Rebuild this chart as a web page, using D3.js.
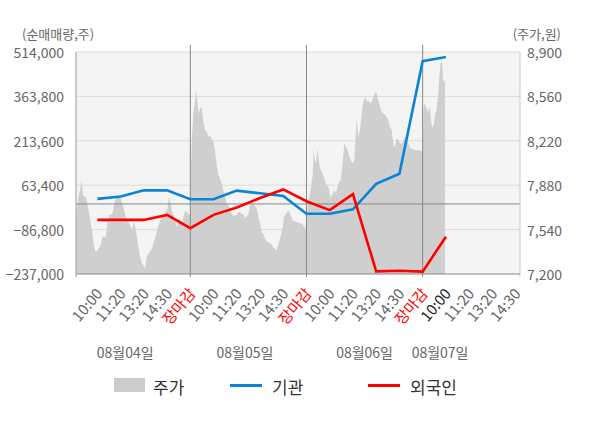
<!DOCTYPE html>
<html>
<head>
<meta charset="utf-8">
<script src="https://cdn.jsdelivr.net/npm/d3@7"></script>
<style>
  body { margin: 0; background: #fff; }
  svg { display: block; font-family: "Noto Sans CJK KR", "Noto Sans", sans-serif; }
</style>
</head>
<body>
<svg id="chart" width="600" height="428"></svg>
<script>
// x positions are in "tick units": 1 = first 10:00, 5 = first 장마감, ...
const tickLabels = ["10:00","11:20","13:20","14:30","장마감",
                    "10:00","11:20","13:20","14:30","장마감",
                    "10:00","11:20","13:20","14:30","장마감",
                    "10:00","11:20","13:20","14:30"];
const dateLabels = ["08월04일","08월05일","08월06일","08월07일"];
const datePos = [2.2, 7.35, 12.5, 15.75];
const dayBreaks = [5, 10, 15];

const leftTicks = [-237000, -86800, 63400, 213600, 363800, 514000];
const rightTicks = [7200, 7540, 7880, 8220, 8560, 8900];

// 기관 / 외국인 net volume at each tick (1..16)
const flowPos = [1,2,3,4,5,6,7,8,9,10,11,12,13,14,15,16];
const institution = [17000, 25000, 46000, 46000, 16000, 16000, 45000, 36000, 27000, -33000, -33000, -18000, 68000, 102000, 483000, 497000];
const foreigner = [-54000, -54000, -54000, -37000, -82000, -37000, -12000, 20000, 49000, 9000, -21000, 33000, -228000, -226000, -229000, -111000];

// 주가 (stock price) trace
const pricePos = [0.08,0.14,0.18,0.28,0.33,0.38,0.50,0.57,0.64,0.71,0.78,0.86,0.93,1.00,1.07,1.14,1.21,1.29,1.36,1.43,
  1.50,1.64,1.72,1.79,1.86,1.93,2.01,2.07,2.15,2.22,2.36,2.44,2.50,2.58,2.65,2.72,2.79,2.87,2.93,3.01,
  3.05,3.12,3.22,3.36,3.44,3.51,3.58,3.65,3.73,3.80,3.87,4.01,4.08,4.16,4.23,4.30,4.34,4.41,4.48,4.56,
  4.63,4.70,4.77,4.85,4.91,4.99,5.03,5.07,5.13,5.20,5.25,5.30,5.36,5.42,5.49,5.56,5.63,5.71,5.77,5.85,
  5.92,5.99,6.06,6.14,6.21,6.28,6.35,6.42,6.49,6.57,6.64,6.71,6.78,6.92,7.00,7.14,7.21,7.28,7.35,7.43,
  7.50,7.57,7.64,7.71,7.78,7.86,7.93,8.00,8.07,8.14,8.21,8.29,8.36,8.43,8.55,8.69,8.76,8.83,8.90,8.98,
  9.04,9.12,9.19,9.26,9.33,9.41,9.55,9.69,9.84,9.95,10.01,10.06,10.19,10.27,10.31,10.37,10.41,10.48,10.53,10.58,
  10.67,10.77,10.84,10.91,10.98,11.05,11.13,11.20,11.27,11.34,11.41,11.48,11.56,11.63,11.70,11.77,11.84,11.91,11.99,12.06,
  12.16,12.23,12.30,12.38,12.44,12.52,12.59,12.66,12.73,12.81,12.87,12.95,12.99,13.06,13.12,13.24,13.38,13.45,13.52,13.59,
  13.67,13.74,13.81,13.88,13.95,14.02,14.10,14.24,14.38,14.45,14.53,14.67,14.81,14.96,15.00,15.04,15.10,15.17,15.24,15.31,
  15.36,15.41,15.49,15.53,15.60,15.67,15.74,15.79,15.84,15.89,15.93,15.96];
const price = [7600,7730,7790,7870,7920,7800,7790,7740,7670,7590,7520,7410,7370,7380,7400,7420,7480,7490,7480,7590,
  7650,7660,7730,7780,7790,7790,7780,7740,7690,7640,7590,7560,7540,7600,7540,7460,7380,7310,7280,7260,
  7240,7330,7360,7400,7450,7490,7540,7580,7630,7650,7660,7690,7790,7730,7670,7640,7630,7560,7590,7630,
  7580,7640,7680,7680,7660,7650,8020,8250,8430,8510,8610,8530,8430,8470,8480,8370,8300,8290,8250,8260,
  8230,8210,8150,8030,7960,7930,7890,7840,7790,7740,7730,7700,7660,7640,7660,7680,7660,7660,7630,7640,
  7660,7730,7750,7740,7720,7700,7640,7590,7520,7510,7470,7450,7440,7440,7410,7380,7410,7450,7500,7560,
  7640,7660,7680,7680,7640,7610,7600,7590,7580,7540,7640,7720,7860,7960,8140,8070,8050,8160,8070,8010,
  7980,7930,7890,7880,7840,7780,7820,7840,7820,7870,7910,7920,8050,8200,8170,8150,8100,8070,8050,8070,
  8400,8250,8300,8430,8510,8560,8520,8530,8510,8520,8550,8580,8600,8550,8510,8440,8420,8400,8380,8330,
  8300,8190,8170,8240,8230,8200,8200,8250,8200,8170,8160,8150,8150,8140,8140,8470,8510,8470,8440,8480,
  8380,8320,8350,8420,8460,8580,8760,8840,8810,8660,8690,8670];

const svg = d3.select("#chart");
const plot = { left: 76, right: 520, top: 52, bottom: 274 };
const grey = "#666";

const x = d3.scaleLinear().domain([0.08, 19.19]).range([plot.left, plot.right]);
const yL = d3.scaleLinear().domain([-237000, 514000]).range([plot.bottom, plot.top]);
const yR = d3.scaleLinear().domain([7200, 8900]).range([plot.bottom, plot.top]);

svg.append("rect")
    .attr("x", plot.left).attr("y", plot.top)
    .attr("width", plot.right - plot.left).attr("height", plot.bottom - plot.top)
    .attr("fill", "#f4f4f4");

// grid lines
svg.append("g").selectAll("line")
    .data(leftTicks.slice(1))
    .enter().append("line")
    .attr("x1", plot.left).attr("x2", plot.right)
    .attr("y1", d => yL(d)).attr("y2", d => yL(d))
    .attr("stroke", "#dcdcdc").attr("stroke-width", 1);

// price area
const area = d3.area()
    .x((d, i) => x(pricePos[i]))
    .y0(plot.bottom)
    .y1(d => yR(d));
svg.append("path")
    .datum(price)
    .attr("d", area)
    .attr("fill", "#cfcfcf");

// zero line
svg.append("line")
    .attr("x1", plot.left).attr("x2", plot.right)
    .attr("y1", yL(0)).attr("y2", yL(0))
    .attr("stroke", "#888").attr("stroke-width", 1);

// day separators
svg.append("g").selectAll("line")
    .data(dayBreaks)
    .enter().append("line")
    .attr("x1", d => x(d)).attr("x2", d => x(d))
    .attr("y1", plot.top - 7).attr("y2", plot.bottom + 3)
    .attr("stroke", "#888").attr("stroke-width", 1);

// axes lines
svg.append("line").attr("x1", plot.left).attr("x2", plot.left).attr("y1", plot.top).attr("y2", plot.bottom + 3)
    .attr("stroke", "#999");
svg.append("line").attr("x1", plot.right).attr("x2", plot.right).attr("y1", plot.top).attr("y2", plot.bottom + 3)
    .attr("stroke", "#ccc");
svg.append("line").attr("x1", plot.left).attr("x2", plot.right).attr("y1", plot.bottom).attr("y2", plot.bottom)
    .attr("stroke", "#888");

// left axis labels
svg.append("g").selectAll("text")
    .data(leftTicks)
    .enter().append("text")
    .attr("x", 64).attr("y", d => yL(d))
    .attr("text-anchor", "end").attr("dominant-baseline", "central")
    .attr("font-size", 14).attr("fill", grey)
    .text(d => d3.format(",")(d));

// right axis labels
svg.append("g").selectAll("text")
    .data(rightTicks)
    .enter().append("text")
    .attr("x", 527).attr("y", d => yR(d))
    .attr("dominant-baseline", "central")
    .attr("font-size", 14).attr("fill", grey)
    .text(d => d3.format(",")(d));

svg.append("text").attr("x", 22).attr("y", 33)
    .attr("dominant-baseline", "central")
    .attr("font-size", 13).attr("fill", grey).text("(순매매량,주)");
svg.append("text").attr("x", 561).attr("y", 33)
    .attr("text-anchor", "end").attr("dominant-baseline", "central")
    .attr("font-size", 13).attr("fill", grey).text("(주가,원)");

// lines
const line = arr => d3.line().x((d, i) => x(flowPos[i])).y(d => yL(d))(arr);
svg.append("path").attr("d", line(institution))
    .attr("fill", "none").attr("stroke", "#0a84d4").attr("stroke-width", 2.6);
svg.append("path").attr("d", line(foreigner))
    .attr("fill", "none").attr("stroke", "#ff0000").attr("stroke-width", 2.6);

// x tick labels
svg.append("g").selectAll("text")
    .data(tickLabels)
    .enter().append("text")
    .attr("transform", (d, i) => "translate(" + (x(i + 1) + 6) + ",294) rotate(-50)")
    .attr("text-anchor", "end")
    .attr("font-size", 15)
    .attr("fill", (d, i) => d === "장마감" ? "#ff0000" : (i === 15 ? "#222" : grey))
    .text(d => d);

svg.append("g").selectAll("text")
    .data(dateLabels)
    .enter().append("text")
    .attr("x", (d, i) => x(datePos[i])).attr("y", 352)
    .attr("text-anchor", "middle").attr("dominant-baseline", "central")
    .attr("font-size", 14).attr("fill", grey)
    .text(d => d);

// legend
const legend = svg.append("g");
legend.append("rect").attr("x", 114).attr("y", 378).attr("width", 31).attr("height", 14).attr("fill", "#cccccc");
legend.append("text").attr("x", 153).attr("y", 386).attr("dominant-baseline", "central")
    .attr("font-size", 17).attr("fill", "#333").text("주가");
legend.append("line").attr("x1", 230).attr("x2", 262).attr("y1", 385.5).attr("y2", 385.5)
    .attr("stroke", "#0a84d4").attr("stroke-width", 3);
legend.append("text").attr("x", 272).attr("y", 386).attr("dominant-baseline", "central")
    .attr("font-size", 17).attr("fill", "#333").text("기관");
legend.append("line").attr("x1", 368).attr("x2", 400).attr("y1", 385.5).attr("y2", 385.5)
    .attr("stroke", "#ff0000").attr("stroke-width", 3);
legend.append("text").attr("x", 410).attr("y", 386).attr("dominant-baseline", "central")
    .attr("font-size", 17).attr("fill", "#333").text("외국인");
</script>
</body>
</html>
